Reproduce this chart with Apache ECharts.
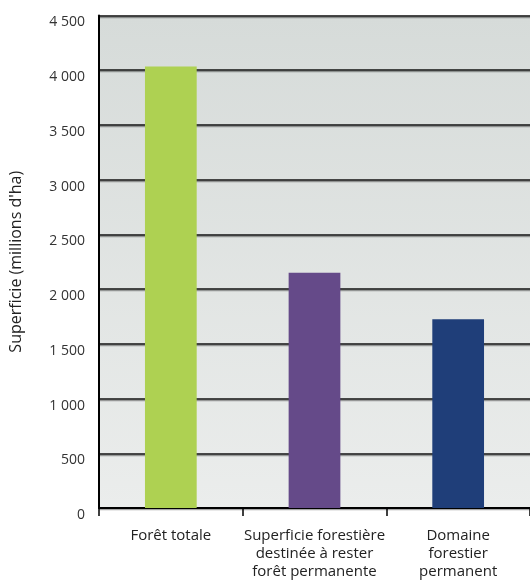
<!DOCTYPE html>
<html>
<head>
<meta charset="utf-8">
<script src="https://cdn.jsdelivr.net/npm/echarts@6/dist/echarts.min.js"></script>
<style>html,body{margin:0;padding:0;background:#fff}#c{width:530px;height:581px}</style>
</head>
<body>
<div id="c"></div>
<script>
const categories = ["Forêt totale", "Superficie forestière\ndestinée à rester\nforêt permanente", "Domaine\nforestier\npermanent"];
const values = [4033, 2150, 1725];
const barColors = ["#aed152", "#654a89", "#1f3e79"];
const yTicks = [0, 500, 1000, 1500, 2000, 2500, 3000, 3500, 4000, 4500];
const yTitle = "Superficie (millions d'ha)";

const chart = echarts.init(document.getElementById('c'), null, {renderer: 'canvas'});
const font = "'Open Sans', 'Noto Sans', sans-serif";
chart.setOption({
  animation: false,
  grid: {
    left: 98, right: 0, top: 15.5, bottom: 68.5,
    show: true, borderWidth: 0,
    backgroundColor: {type: 'linear', x: 0, y: 0, x2: 0, y2: 1,
      colorStops: [{offset: 0, color: '#d6dbd9'}, {offset: 1, color: '#ebedec'}]}
  },
  xAxis: {
    type: 'category',
    data: categories,
    axisLine: {lineStyle: {color: '#000', width: 2}},
    axisTick: {show: true, length: 8, lineStyle: {color: '#000', width: 1.5}},
    axisLabel: {color: '#222', fontFamily: font, fontSize: 15, lineHeight: 18, margin: 19, interval: 0}
  },
  yAxis: {
    type: 'value',
    min: yTicks[0], max: yTicks[yTicks.length - 1], interval: 500,
    name: yTitle,
    nameLocation: 'middle', nameGap: 75, nameRotate: 90,
    nameTextStyle: {color: '#222', fontFamily: font, fontSize: 16},
    axisLine: {show: true, lineStyle: {color: '#000', width: 2}},
    axisTick: {show: false},
    axisLabel: {color: '#333', fontFamily: font, fontSize: 14, margin: 14, verticalAlign: 'top', padding: [0, 0, 0, 0],
      formatter: v => String(v).replace(/\B(?=(\d{3})+(?!\d))/g, ' ')},
    splitLine: {show: true, lineStyle: {color: '#111', width: 1.5, shadowColor: 'rgba(0,0,0,0.35)', shadowOffsetY: 1.5, shadowBlur: 0}}
  },
  series: [{
    type: 'bar',
    data: values.map((v, i) => ({value: v, itemStyle: {color: barColors[i]}})),
    barWidth: '36%',
    z: 3
  }]
});
</script>
</body>
</html>
